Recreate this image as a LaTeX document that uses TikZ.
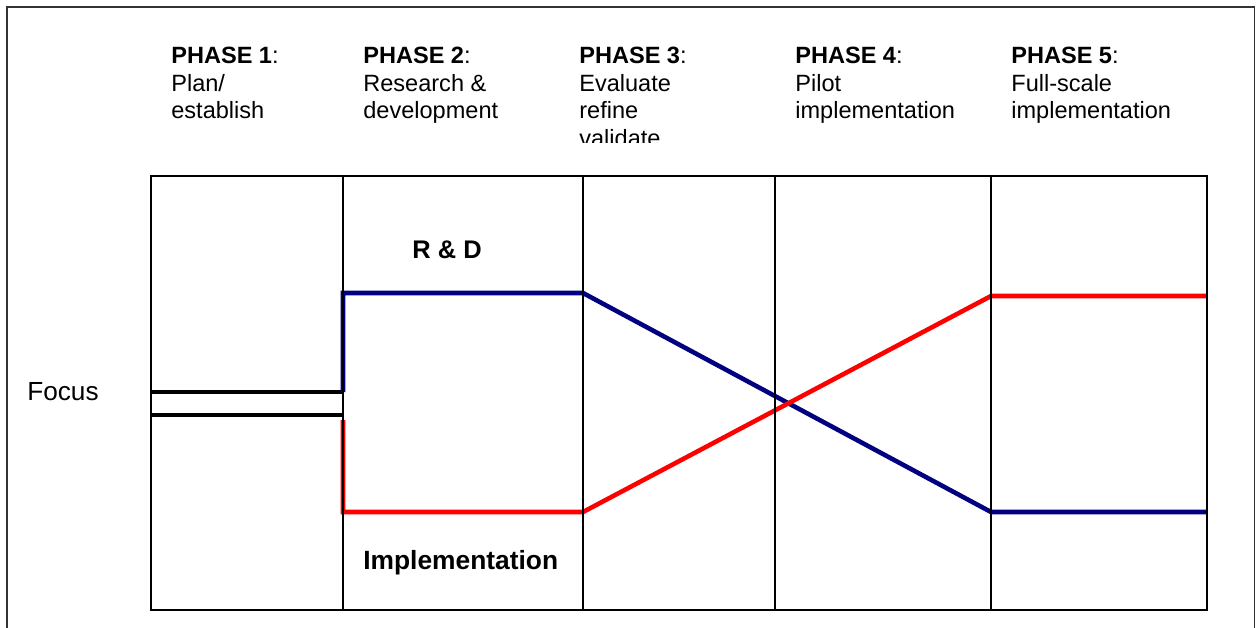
\documentclass[tikz,border=0pt]{standalone}
\usepackage{fontspec}
\setmainfont{Liberation Sans}
\usetikzlibrary{positioning}
\definecolor{rdblue}{RGB}{0,0,128}
\definecolor{imred}{RGB}{255,0,0}

\begin{document}
\begin{tikzpicture}[x=0.02cm,y=-0.02cm,
	phase/.style={anchor=north west, align=left, inner sep=0pt, font=\fontsize{13.4}{15.7}\selectfont},
	zone/.style={inner sep=0pt, font=\fontsize{14.5}{17}\selectfont\bfseries},
	trend/.style={line width=2.6pt, line join=miter},
	grid/.style={line width=1.1pt}]
	\useasboundingbox (0,0) rectangle (1256,628);
	\draw[line width=0.9pt, black!80] (7,640) -- (7,7) -- (1254.5,7) -- (1254.5,640);

	\begin{scope}
		\clip (0,0) rectangle (1256,143);
		\node[phase] (ph1) at (171,47) {\textbf{PHASE 1}:\\Plan/\\establish};
		\node[phase] (ph2) at (363,47) {\textbf{PHASE 2}:\\Research \&\\development};
		\node[phase] (ph3) at (579,47) {\textbf{PHASE 3}:\\Evaluate\\refine\\validate};
		\node[phase] (ph4) at (795,47) {\textbf{PHASE 4}:\\Pilot\\implementation};
		\node[phase] (ph5) at (1011,47) {\textbf{PHASE 5}:\\Full-scale\\implementation};
	\end{scope}

	\node[anchor=west, inner sep=0pt, font=\fontsize{14.9}{17}\selectfont] (focus) at (27,392) {Focus};
	\node[zone] (rd) at (447,250) {R \& D};
	\node[zone, font=\fontsize{15}{18}\selectfont\bfseries, anchor=base west] (impl) at (363,569) {Implementation};

	\coordinate (s1) at (151,392);
	\coordinate (s2) at (151,415);
	\coordinate (e1) at (343,392);
	\coordinate (e2) at (343,415);
	\coordinate (b1) at (343,293);
	\coordinate (b2) at (583,293);
	\coordinate (b3) at (991,512);
	\coordinate (b4) at (1207,512);
	\coordinate (r0) at (343,420);
	\coordinate (r1) at (343,512);
	\coordinate (r2) at (583,512);
	\coordinate (r3) at (991,296);
	\coordinate (r4) at (1207,296);

	\draw[trend] (s1) -- (e1);
	\draw[trend] (s2) -- (e2);
	\draw[trend, rdblue] (e1) -- (b1) -- (b2) -- (b3) -- (b4);
	\draw[trend, imred] (r0) -- (r1) -- (r2) -- (r3) -- (r4);

	\draw[grid] (151,176) rectangle (1207,610);
	\foreach \x in {343,583,775,991}
		\draw[grid] (\x,176) -- (\x,610);
\end{tikzpicture}
\end{document}
